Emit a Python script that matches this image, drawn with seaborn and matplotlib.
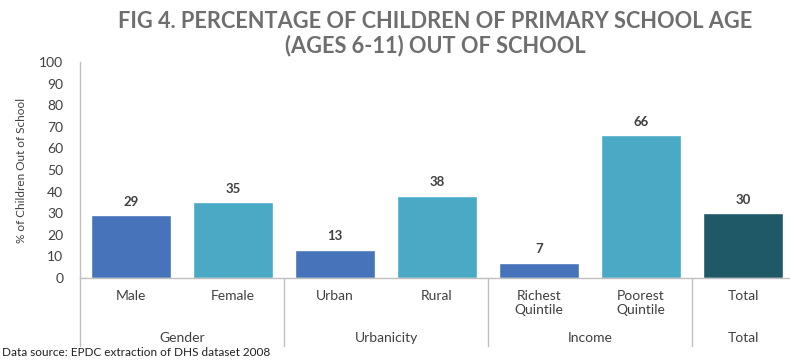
import matplotlib
matplotlib.use("Agg")
import matplotlib.pyplot as plt
import matplotlib.transforms as mtransforms
import seaborn as sns
import pandas as pd

# Data
categories = ["Male", "Female", "Urban", "Rural", "Richest\nQuintile", "Poorest\nQuintile", "Total"]
values = [29, 35, 13, 38, 7, 66, 30]
groups = ["Gender", "Urbanicity", "Income", "Total"]
group_centers = [0.5, 2.5, 4.5, 6.0]
group_dividers = [1.5, 3.5, 5.5]
y_ticks = list(range(0, 101, 10))

BLUE = "#4673B9"
TEAL = "#4AA9C4"
DARK = "#1F5867"
bar_colors = [BLUE, TEAL, BLUE, TEAL, BLUE, TEAL, DARK]

sns.set_theme(style="white")
plt.rcParams["font.family"] = ["Lato", "DejaVu Sans"]

W, H = 790, 361
fig = plt.figure(figsize=(W / 100, H / 100), dpi=100)
fig.patch.set_facecolor("white")

ax_left, ax_bottom_px, ax_top_px = 80, 278, 62
cat_w = 102.0
ax = fig.add_axes([ax_left / W, (H - ax_bottom_px) / H,
                   cat_w * 7 / W, (ax_bottom_px - ax_top_px) / H])

df = pd.DataFrame({"cat": categories, "val": values})
sns.barplot(data=df, x="cat", y="val", hue="cat", palette=bar_colors,
            legend=False, width=0.78, saturation=1, ax=ax)

ax.set_xlim(-0.5, 6.5)
ax.set_ylim(0, 100)
ax.set_yticks(y_ticks)
ax.set_yticklabels([str(t) for t in y_ticks], fontsize=10, color="#404040")
ax.tick_params(axis="y", length=0, pad=12)
ax.tick_params(axis="x", length=0, pad=9, labelsize=10, labelcolor="#404040")
ax.set_xlabel("")
ax.set_ylabel("% of Children Out of School", fontsize=8.5, color="#404040", labelpad=9)

for side in ["top", "right"]:
    ax.spines[side].set_visible(False)
for side in ["left", "bottom"]:
    ax.spines[side].set_color("#BFBFBF")
    ax.spines[side].set_linewidth(1.0)

# Value labels above the bars
for i, v in enumerate(values):
    ax.text(i, v + 3.5, f"{v}", ha="center", va="bottom", fontsize=9.5,
            fontweight="bold", color="#404040")

# Group dividers and group labels below the category labels
trans = mtransforms.blended_transform_factory(ax.transData, ax.transAxes)
depth = -(346 - ax_bottom_px) / (ax_bottom_px - ax_top_px)
for xd in [-0.5] + group_dividers:
    ax.plot([xd, xd], [0, depth], transform=trans, color="#BFBFBF",
            linewidth=1.0, clip_on=False)
grp_y = -(338 - ax_bottom_px) / (ax_bottom_px - ax_top_px)
for g, xc in zip(groups, group_centers):
    ax.text(xc, grp_y, g, transform=trans, ha="center", va="center",
            fontsize=10, color="#404040")

# Title and source note
fig.text(435 / W, 1 - 22 / H, "FIG 4. PERCENTAGE OF CHILDREN OF PRIMARY SCHOOL AGE",
         ha="center", va="center", fontsize=15.7, fontweight="bold", color="#6E6E6E")
fig.text(435 / W, 1 - 46 / H, "(AGES 6-11) OUT OF SCHOOL",
         ha="center", va="center", fontsize=15.7, fontweight="bold", color="#6E6E6E")
fig.text(2 / W, 1 - 353 / H, "Data source: EPDC extraction of DHS dataset 2008",
         ha="left", va="center", fontsize=8.5, color="#202020")

fig.savefig("out.png", dpi=100, facecolor="white")
